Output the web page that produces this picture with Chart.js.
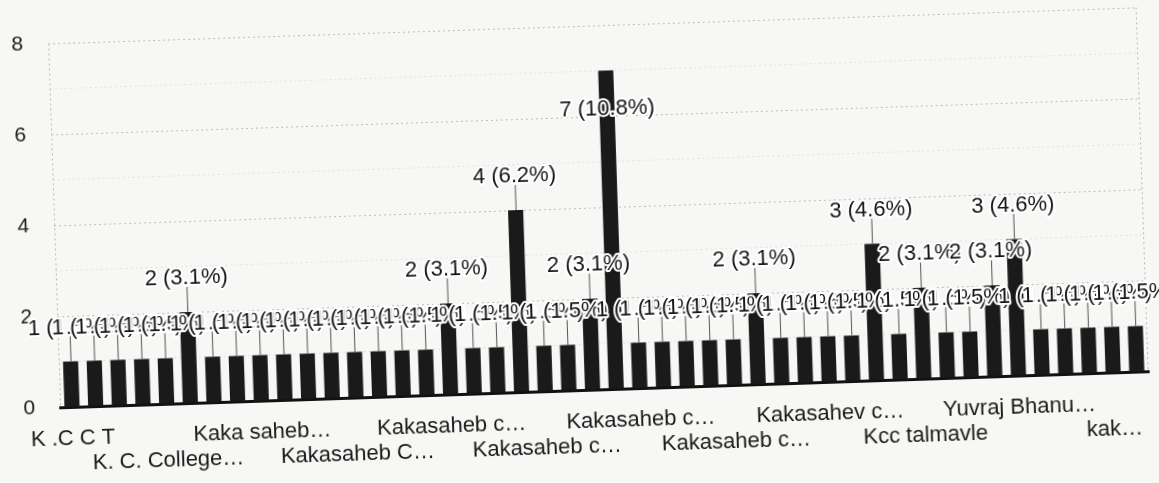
<!DOCTYPE html>
<html lang="en">
<head>
  <meta charset="UTF-8">
  <title>College name responses</title>
  <style>
    html, body {
      margin: 0;
      padding: 0;
      background: #f7f7f5;
      overflow: hidden;
    }
    #chart {
      display: block;
      transform: rotate(-1.9deg);
      transform-origin: 580px 241px;
    }
  </style>
</head>
<body>
  <canvas id="chart" width="1159" height="483"></canvas>

  <script src="https://cdn.jsdelivr.net/npm/chart.js"></script>
  <script>
    // one bar per answer; only every fourth name gets printed under the axis
    const categories = [
      'K .C C T', '', '', '',
      'K. C. College…', '', '', '',
      'Kaka saheb…', '', '', '',
      'Kakasaheb C…', '', '', '',
      'Kakasaheb c…', '', '', '',
      'Kakasaheb c…', '', '', '',
      'Kakasaheb c…', '', '', '',
      'Kakasaheb c…', '', '', '',
      'Kakasahev c…', '', '', '',
      'Kcc talmavle', '', '', '',
      'Yuvraj Bhanu…', '', '', '',
      'kak…', ''
    ];
    const counts = [
      1, 1, 1, 1, 1, 2, 1, 1, 1, 1, 1, 1, 1, 1, 1, 1,
      2, 1, 1, 4, 1, 1, 2, 7, 1, 1, 1, 1, 1, 2, 1, 1,
      1, 1, 3, 1, 2, 1, 1, 2, 3, 1, 1, 1, 1, 1
    ];
    const yTicks = [0, 2, 4, 6, 8];

    const total = counts.reduce((a, b) => a + b, 0);
    const FONT = "'Liberation Sans', Arial, sans-serif";

    // dotted frame on the left and right of the plot area
    const frame = {
      id: 'frame',
      beforeDatasetsDraw(chart) {
        const { ctx, chartArea: a } = chart;
        ctx.save();
        ctx.strokeStyle = '#b8b8b8';
        ctx.lineWidth = 1;
        ctx.setLineDash([2, 3]);
        ctx.beginPath();
        ctx.moveTo(a.left + 0.5, a.top);
        ctx.lineTo(a.left + 0.5, a.bottom);
        ctx.moveTo(a.right - 0.5, a.top);
        ctx.lineTo(a.right - 0.5, a.bottom);
        ctx.stroke();
        ctx.restore();
      }
    };

    // "n (p%)" annotations with a stem, white halo so later ones sit on top
    const annotations = {
      id: 'annotations',
      afterDatasetsDraw(chart) {
        const { ctx } = chart;
        const bars = chart.getDatasetMeta(0).data;
        const top = Math.max(...counts);
        ctx.save();
        ctx.font = '22px ' + FONT;
        ctx.textAlign = 'center';
        ctx.textBaseline = 'middle';
        ctx.lineJoin = 'round';
        bars.forEach((bar, i) => {
          const v = counts[i];
          const text = v + ' (' + (v / total * 100).toFixed(1) + '%)';
          const inside = v === top;
          const y = inside ? bar.y + 38 : bar.y - 34;
          if (!inside) {
            ctx.strokeStyle = '#555';
            ctx.lineWidth = 1;
            ctx.beginPath();
            ctx.moveTo(bar.x + 0.5, bar.y);
            ctx.lineTo(bar.x + 0.5, y + 9);
            ctx.stroke();
          }
          ctx.strokeStyle = '#fff';
          ctx.lineWidth = 4;
          ctx.strokeText(text, bar.x, y);
          ctx.fillStyle = '#141414';
          ctx.fillText(text, bar.x, y);
        });
        ctx.restore();
      }
    };

    new Chart(document.getElementById('chart'), {
      type: 'bar',
      data: {
        labels: categories,
        datasets: [{
          data: counts,
          backgroundColor: '#1a1a1a',
          barPercentage: 0.64,
          categoryPercentage: 1
        }]
      },
      options: {
        responsive: false,
        animation: false,
        layout: { padding: { top: 26, right: 15, bottom: 0, left: 0 } },
        plugins: {
          legend: { display: false },
          tooltip: { enabled: false }
        },
        scales: {
          x: {
            afterFit(scale) { scale.height = 93; },
            grid: { display: false, drawTicks: false },
            border: { display: true, color: '#111', width: 3 },
            ticks: {
              autoSkip: false,
              maxRotation: 0,
              padding: 20,
              color: '#1a1a1a',
              font: { family: FONT, size: 22, lineHeight: 1.12 },
              callback(value, index) {
                const name = categories[index];
                if (!name) return '';
                return (index / 4) % 2 === 0 ? [name, ''] : ['', name];
              }
            }
          },
          y: {
            min: 0,
            max: 8,
            afterFit(scale) {
              scale.width = 55;
              scale.paddingTop = 0; // the label gap should not push the plot down
            },
            border: { display: false, dash: [2, 3] },
            grid: {
              drawTicks: false,
              color: ctx => (ctx.tick.value % 2 === 0 ? '#bdbdbd' : '#e2e2e2')
            },
            ticks: {
              stepSize: 1,
              padding: 25,
              color: '#1a1a1a',
              font: { family: FONT, size: 21 },
              callback: v => (yTicks.includes(v) ? v : '')
            }
          }
        }
      },
      plugins: [frame, annotations]
    });
  </script>
</body>
</html>
